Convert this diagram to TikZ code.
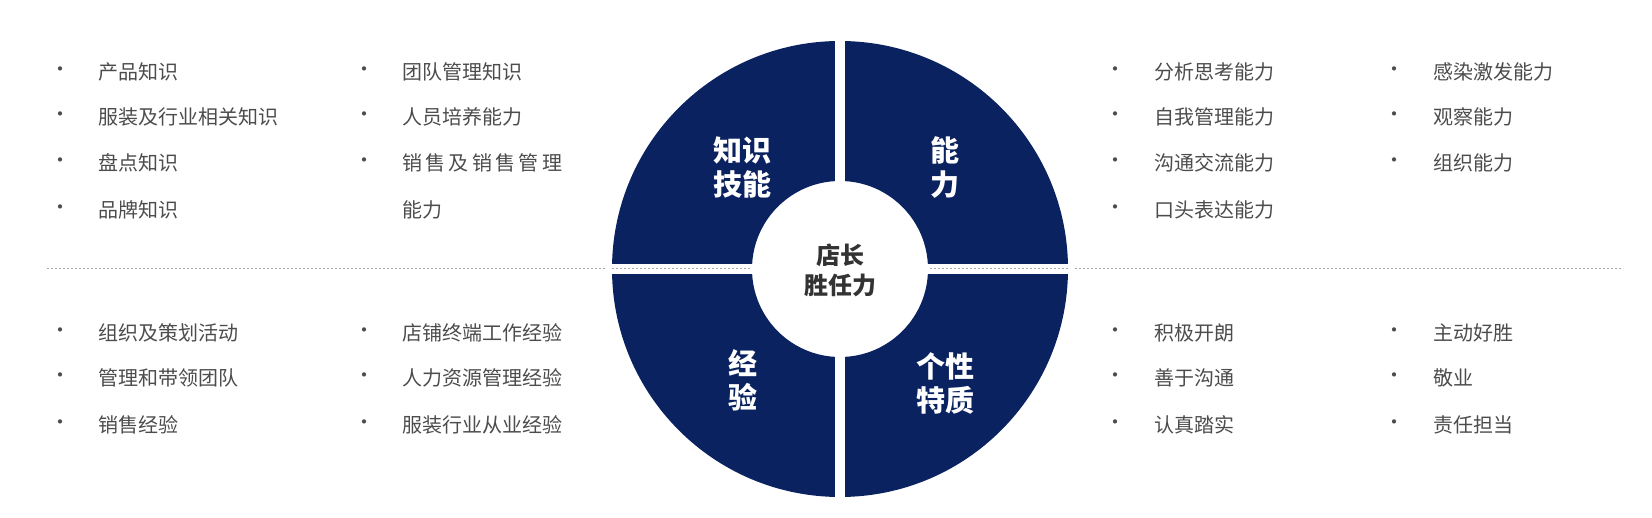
\documentclass[tikz,border=0pt]{standalone}
\usepackage{fontspec}
\setmainfont{Noto Sans CJK SC}
\begin{document}
\begin{tikzpicture}[x=1pt,y=-1pt,
  item/.style={anchor=west,text=black!70,font=\fontsize{20}{24}\selectfont,inner sep=0},
  dot/.style={text=black!70,font=\fontsize{20}{24}\selectfont,inner sep=0},
  quad/.style={text=white,font=\fontsize{29}{34}\selectfont\bfseries,align=center,inner sep=0},
]
\useasboundingbox (0,0) rectangle (1652,518);
\definecolor{navy}{HTML}{0A2260}
\draw[black!35,dashed,dash pattern=on 2pt off 2pt] (47,268) -- (1623,268);
\fill[navy,even odd rule] (840,269) circle (228) (840,269) circle (88);
\draw[white,line width=10pt] (840,35) -- (840,503) (606,269) -- (1074,269);
\draw[black!35,dash pattern=on 2pt off 2pt] (612,268) -- (750,268) (930,268) -- (1070,268);
\node[quad] (k) at (742,168) {知识\\技能};
\node[quad] (n) at (945,168) {能\\力};
\node[quad] (j) at (743,380) {经\\验};
\node[quad] (g) at (945,383) {个性\\特质};
\node[text=black!80,font=\fontsize{24}{30}\selectfont\bfseries,align=center,inner sep=0] (c) at (840,270) {店长\\胜任力};
\foreach \x/\y/\t [count=\i] in {
 98/72/产品知识, 98/117/服装及行业相关知识, 98/163/盘点知识, 98/210/品牌知识,
 402/72/团队管理知识, 402/117/人员培养能力, 402/163/{销\,售\,及\,销\,售\,管\,理}, 402/210/能力,
 1154/72/分析思考能力, 1154/117/自我管理能力, 1154/163/沟通交流能力, 1154/210/口头表达能力,
 1433/72/感染激发能力, 1433/117/观察能力, 1433/163/组织能力,
 98/333/组织及策划活动, 98/378/管理和带领团队, 98/425/销售经验,
 402/333/店铺终端工作经验, 402/378/人力资源管理经验, 402/425/服装行业从业经验,
 1154/333/积极开朗, 1154/378/善于沟通, 1154/425/认真踏实,
 1433/333/主动好胜, 1433/378/敬业, 1433/425/责任担当}
 { \node[item] (t\i) at (\x,\y) {\t}; }
\foreach \x/\y [count=\i] in {60/72,60/117,60/163,60/210,364/72,364/117,364/163,
 1115/72,1115/117,1115/163,1115/210,1394/72,1394/117,1394/163,
 60/333,60/378,60/425,364/333,364/378,364/425,1115/333,1115/378,1115/425,1394/333,1394/378,1394/425}
 { \node[dot] (b\i) at (\x,\y) {•}; }
\end{tikzpicture}
\end{document}
